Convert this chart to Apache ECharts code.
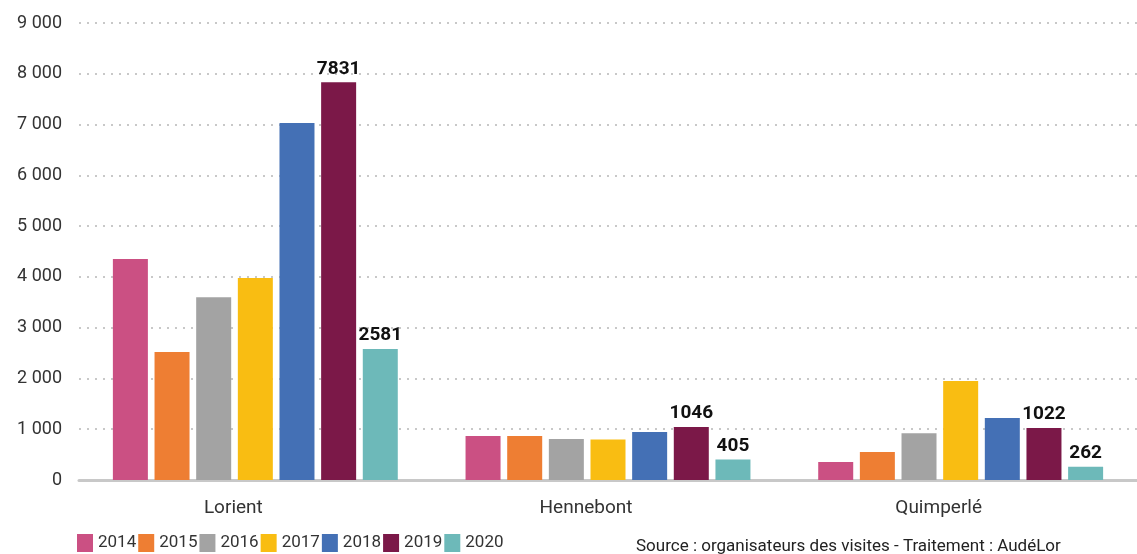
<!DOCTYPE html>
<html><head><meta charset="utf-8">
<script src="https://cdn.jsdelivr.net/npm/echarts@6/dist/echarts.min.js"></script>
<style>html,body{margin:0;padding:0;background:#fff}#c{width:1137px;height:554px}</style>
</head><body><div id="c"></div>
<script>
const categories = ['Lorient', 'Hennebont', 'Quimperlé'];
const years = ['2014', '2015', '2016', '2017', '2018', '2019', '2020'];
const v2014 = [4350, 865, 355];
const v2015 = [2520, 865, 550];
const v2016 = [3600, 805, 920];
const v2017 = [3980, 800, 1950];
const v2018 = [7030, 945, 1220];
const v2019 = [7831, 1046, 1022];
const v2020 = [2581, 405, 262];
const labelledYears = ['2019', '2020'];
const colors = ['#CB5083', '#EE7E33', '#A3A3A3', '#F9BD12', '#4470B5', '#7B1848', '#6DB9B9'];
const yMin = 0, yMax = 9000, yStep = 1000;
const sourceText = 'Source : organisateurs des visites - Traitement : AudéLor';

const values = [v2014, v2015, v2016, v2017, v2018, v2019, v2020];
const font = 'Roboto, "DejaVu Sans", sans-serif';
const chart = echarts.init(document.getElementById('c'));
chart.setOption({
  animation: false,
  grid: { left: 79, right: -3, top: 23, bottom: 74, containLabel: false },
  legend: {
    left: 77, bottom: 2, padding: 0, itemWidth: 16, itemHeight: 18, itemGap: 2,
    icon: 'rect',
    textStyle: { fontFamily: font, fontSize: 17, color: '#333' },
    data: years
  },
  graphic: [{
    type: 'text', left: 636, top: 538,
    style: { text: sourceText, font: '17px ' + font, fill: '#222' }
  }],
  xAxis: {
    type: 'category', data: categories,
    axisLine: { lineStyle: { color: '#c8c8c8', width: 3 } },
    axisTick: { show: false },
    axisLabel: { fontFamily: font, fontSize: 19, color: '#333', margin: 19, padding: [0, 44, 0, 0] }
  },
  yAxis: {
    type: 'value', min: yMin, max: yMax, interval: yStep,
    axisLine: { show: false }, axisTick: { show: false },
    axisLabel: {
      fontFamily: font, fontSize: 18, color: '#333', margin: 17,
      formatter: v => String(v).replace(/\B(?=(\d{3})+(?!\d))/g, ' ')
    },
    splitLine: { lineStyle: { color: '#c8c8c8', width: 2, type: [2, 6] } }
  },
  series: years.map((y, i) => ({
    name: y, type: 'bar', data: values[i], barWidth: 35, barGap: '19%',
    itemStyle: { color: colors[i] },
    label: {
      show: labelledYears.includes(y), position: 'top', distance: 4,
      fontFamily: font, fontSize: 19, fontWeight: 'bold', color: '#111'
    }
  }))
});
</script></body></html>
